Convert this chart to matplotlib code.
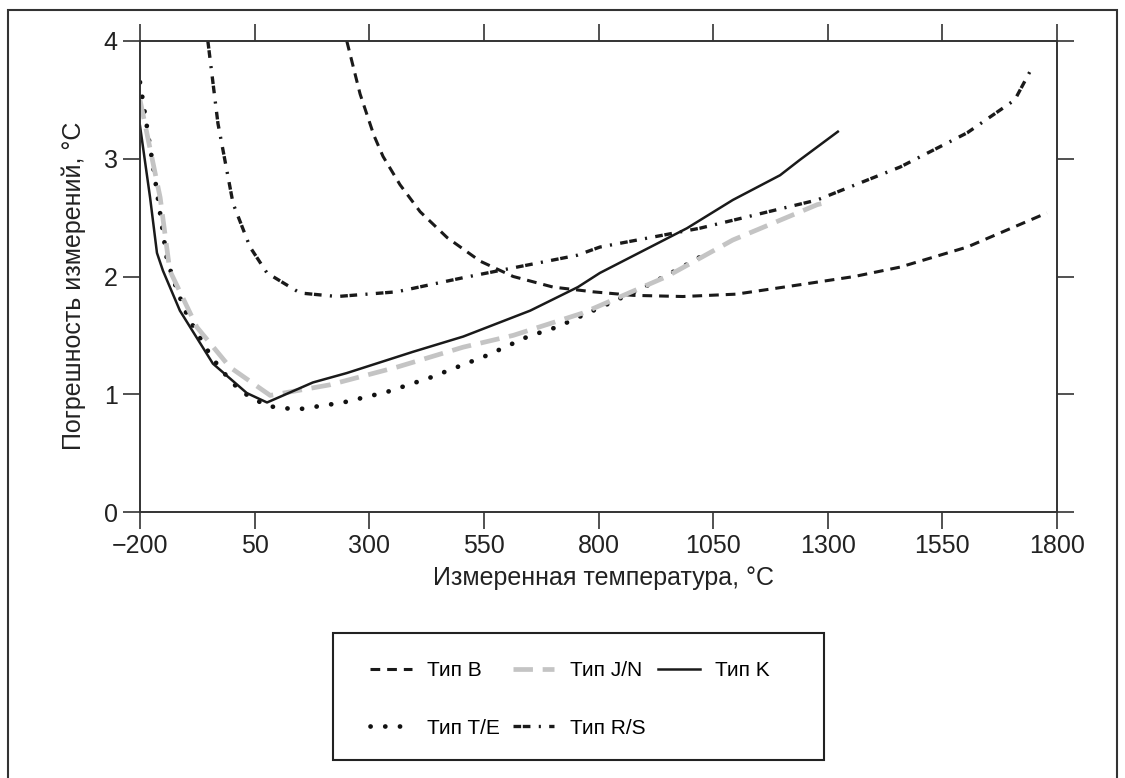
import numpy as np
import matplotlib
matplotlib.use("Agg")
import matplotlib.pyplot as plt
from matplotlib.patches import Rectangle

plt.rcParams['font.family'] = ['Liberation Sans', 'DejaVu Sans']
plt.rcParams['lines.scale_dashes'] = False

# Тип B
t_b = [251, 280, 310, 330, 367, 411, 470, 542, 614, 701, 788, 875, 984, 1100, 1239, 1358, 1458, 1604, 1778]
v_b = [4.0, 3.55, 3.2, 3.02, 2.78, 2.55, 2.33, 2.13, 2.0, 1.91, 1.87, 1.84, 1.83, 1.85, 1.93, 2.0, 2.08, 2.25, 2.54]

# Тип J/N
t_jn = [-200, -156, -135, -76, -4, 84, 214, 360, 505, 614, 766, 949, 1093, 1277, 1298]
v_jn = [3.5, 2.67, 2.05, 1.57, 1.23, 0.99, 1.08, 1.23, 1.40, 1.50, 1.69, 2.0, 2.31, 2.61, 2.63]

# Тип K
t_k = [-200, -178, -163, -150, -113, -41, 33, 77, 177, 251, 395, 505, 651, 755, 803, 993, 1093, 1196, 1239, 1322]
v_k = [3.28, 2.67, 2.2, 2.05, 1.71, 1.26, 1.01, 0.93, 1.10, 1.18, 1.36, 1.49, 1.71, 1.91, 2.03, 2.41, 2.65, 2.86, 2.99, 3.23]

# Тип T/E
t_te = [-200, -170, -141, -119, -95, -43, -4, 22, 77, 142, 243, 339, 432, 557, 646, 709, 890, 978, 1037]
v_te = [3.65, 2.9, 2.14, 1.88, 1.65, 1.31, 1.12, 1.02, 0.90, 0.87, 0.93, 1.02, 1.14, 1.33, 1.49, 1.57, 1.89, 2.07, 2.2]

# Тип R/S
t_rs = [-52, -30, 3, 40, 77, 149, 230, 360, 505, 753, 803, 1021, 1277, 1458, 1604, 1708, 1741]
v_rs = [4.0, 3.30, 2.62, 2.25, 2.03, 1.86, 1.83, 1.87, 1.99, 2.18, 2.25, 2.41, 2.65, 2.93, 3.22, 3.50, 3.74]

x_ticks = [-200, 50, 300, 550, 800, 1050, 1300, 1550, 1800]
y_ticks = [0, 1, 2, 3, 4]

W, H = 1125, 778
fig = plt.figure(figsize=(W/100, H/100), dpi=100)
ax = fig.add_axes([140/W, 1-512/H, 917/W, 471/H])

ax.plot(t_b, v_b, color='#1a1a1a', lw=2.2, ls=(0, (7, 5)), label='Тип B')
ax.plot(t_te, v_te, color='#111111', lw=3.4, ls=(0, (0.1, 10.5)), dash_capstyle='round', label='Тип T/E')
ax.plot(t_jn, v_jn, color='#c4c4c4', lw=3.4, ls=(0, (14, 7)), label='Тип J/N')
ax.plot(t_rs, v_rs, color='#1a1a1a', lw=2.4, ls=(0, (5.5, 1.2, 5.5, 6, 1.5, 6)), label='Тип R/S')
ax.plot(t_k, v_k, color='#1a1a1a', lw=1.8, label='Тип K')

ax.set_xlim(-200, 1800)
ax.set_ylim(0, 4)
ax.set_xticks(x_ticks)
ax.set_yticks(y_ticks)
ax.tick_params(direction='out', length=12, width=1.1, labelsize=18, pad=4,
               top=True, right=True, colors='#222222')
for s in ax.spines.values():
    s.set_linewidth(1.4)
    s.set_color('#333333')

ax.set_xlabel('Измеренная температура, °C', fontsize=18, color='#222222')
ax.set_ylabel('Погрешность измерений, °C', fontsize=18, color='#222222')
ax.xaxis.set_label_coords(0.505, -0.115)
ax.yaxis.set_label_coords(-0.059, 0.48)

# legend entries without frame, frame drawn separately
leg = fig.legend(loc='upper left', bbox_to_anchor=(370/W, 1-661/H),
                 borderaxespad=0, borderpad=0, ncol=3, prop={'size': 15},
                 frameon=False, handlelength=2.0, handletextpad=0.75,
                 columnspacing=0.6, labelspacing=1.85)

fig.patches.append(Rectangle((333/W, 1-760/H), 491/W, 127/H,
                             transform=fig.transFigure, fill=False,
                             edgecolor='#222222', lw=1.5))

fig.patches.append(Rectangle((8/W, -0.02), 1109/W, 1-10/H+0.02,
                             transform=fig.transFigure, fill=False,
                             edgecolor='#333333', lw=1.5))

fig.savefig('out.png', dpi=100)
